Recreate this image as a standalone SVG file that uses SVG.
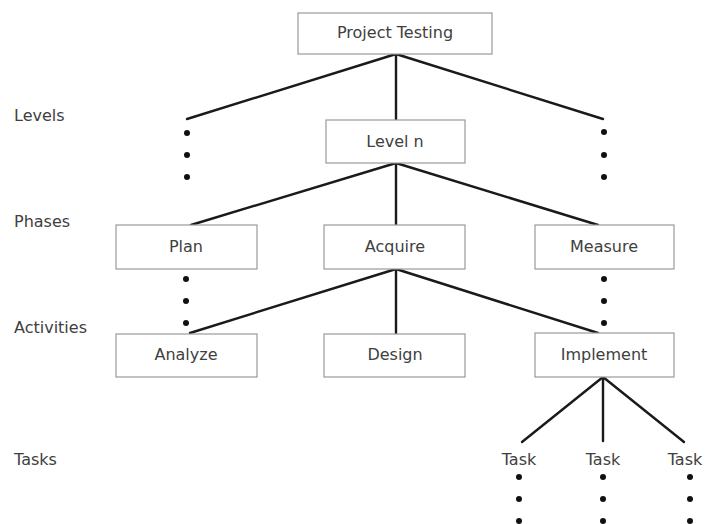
<svg xmlns="http://www.w3.org/2000/svg" width="705" height="524" viewBox="0 0 705 524">
  <style>
    .box { fill: #ffffff; stroke: #9a9a9a; stroke-width: 1.2; }
    .lbl { font-family: "DejaVu Sans", "Liberation Sans", sans-serif; font-size: 16px; fill: #404040; text-anchor: middle; dominant-baseline: central; }
    .side { font-family: "DejaVu Sans", "Liberation Sans", sans-serif; font-size: 16px; fill: #404040; dominant-baseline: central; }
    .edge { stroke: #1a1a1a; stroke-width: 2.4; fill: none; stroke-linecap: round; }
    .dot { fill: #111111; }
  </style>
  <rect width="705" height="524" fill="#ffffff"/>

  <!-- row labels -->
  <g id="row-labels">
    <text class="side" x="14" y="115">Levels</text>
    <text class="side" x="14" y="221">Phases</text>
    <text class="side" x="14" y="327">Activities</text>
    <text class="side" x="14" y="459">Tasks</text>
  </g>

  <!-- connectors -->
  <g id="connectors">
    <line class="edge" x1="396" y1="54" x2="187" y2="119"/>
    <line class="edge" x1="396" y1="54" x2="396" y2="120"/>
    <line class="edge" x1="396" y1="54" x2="603" y2="119"/>
    <line class="edge" x1="396" y1="163" x2="191" y2="225"/>
    <line class="edge" x1="396" y1="163" x2="396" y2="225"/>
    <line class="edge" x1="396" y1="163" x2="598" y2="225"/>
    <line class="edge" x1="396" y1="269" x2="190" y2="333"/>
    <line class="edge" x1="396" y1="269" x2="396" y2="334"/>
    <line class="edge" x1="396" y1="269" x2="598" y2="333"/>
    <line class="edge" x1="603" y1="377" x2="522" y2="442"/>
    <line class="edge" x1="603" y1="377" x2="603" y2="441"/>
    <line class="edge" x1="603" y1="377" x2="684" y2="442"/>
  </g>

  <!-- continuation dots -->
  <g id="ellipses">
    <circle class="dot" cx="187" cy="133" r="3"/>
    <circle class="dot" cx="187" cy="155" r="3"/>
    <circle class="dot" cx="187" cy="177" r="3"/>
    <circle class="dot" cx="604" cy="132" r="3"/>
    <circle class="dot" cx="604" cy="155" r="3"/>
    <circle class="dot" cx="604" cy="177" r="3"/>
    <circle class="dot" cx="186" cy="279" r="3"/>
    <circle class="dot" cx="186" cy="301" r="3"/>
    <circle class="dot" cx="186" cy="323" r="3"/>
    <circle class="dot" cx="604" cy="279" r="3"/>
    <circle class="dot" cx="604" cy="301" r="3"/>
    <circle class="dot" cx="604" cy="323" r="3"/>
    <circle class="dot" cx="519" cy="477" r="3"/>
    <circle class="dot" cx="519" cy="499" r="3"/>
    <circle class="dot" cx="519" cy="521" r="3"/>
    <circle class="dot" cx="603" cy="477" r="3"/>
    <circle class="dot" cx="603" cy="499" r="3"/>
    <circle class="dot" cx="603" cy="521" r="3"/>
    <circle class="dot" cx="690" cy="477" r="3"/>
    <circle class="dot" cx="690" cy="499" r="3"/>
    <circle class="dot" cx="690" cy="521" r="3"/>
  </g>

  <g id="project-testing">
    <rect class="box" x="298" y="13" width="194" height="41"/>
    <text class="lbl" x="395" y="32">Project Testing</text>
  </g>
  <g id="level-n">
    <rect class="box" x="326" y="120" width="139" height="43"/>
    <text class="lbl" x="395" y="141">Level n</text>
  </g>
  <g id="plan">
    <rect class="box" x="116" y="225" width="141" height="44"/>
    <text class="lbl" x="186" y="246">Plan</text>
  </g>
  <g id="acquire">
    <rect class="box" x="324" y="225" width="141" height="44"/>
    <text class="lbl" x="395" y="246">Acquire</text>
  </g>
  <g id="measure">
    <rect class="box" x="535" y="225" width="139" height="44"/>
    <text class="lbl" x="604" y="246">Measure</text>
  </g>
  <g id="analyze">
    <rect class="box" x="116" y="334" width="141" height="43"/>
    <text class="lbl" x="186" y="354">Analyze</text>
  </g>
  <g id="design">
    <rect class="box" x="324" y="334" width="141" height="43"/>
    <text class="lbl" x="395" y="354">Design</text>
  </g>
  <g id="implement">
    <rect class="box" x="535" y="333" width="139" height="44"/>
    <text class="lbl" x="604" y="354">Implement</text>
  </g>
  <g id="task-1">
    <text class="lbl" x="519" y="459">Task</text>
  </g>
  <g id="task-2">
    <text class="lbl" x="603" y="459">Task</text>
  </g>
  <g id="task-3">
    <text class="lbl" x="685" y="459">Task</text>
  </g>
</svg>
